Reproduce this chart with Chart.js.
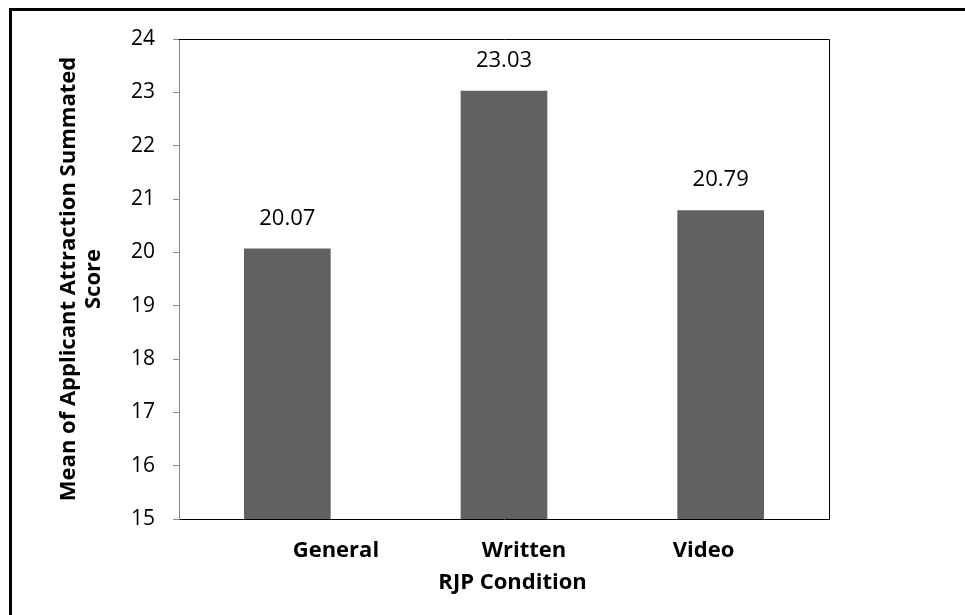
<!DOCTYPE html>
<html>
<head>
<meta charset="utf-8">
<script src="https://cdn.jsdelivr.net/npm/chart.js@4.4.1/dist/chart.umd.min.js"></script>
<style>
  html, body { margin: 0; padding: 0; background: #fff; overflow: hidden; }
  #frame {
    position: absolute; left: 9px; top: 8px;
    width: 2000px; height: 2000px;
    border: 3px solid #000;
  }
  #chart { position: absolute; left: 0; top: 0; }
</style>
</head>
<body>
<div id="frame"></div>
<canvas id="chart" width="965" height="615"></canvas>
<script>
// dados do grafico
const categories = ['General', 'Written', 'Video'];
const means = [20.07, 23.03, 20.79];
const yTicks = [15, 16, 17, 18, 19, 20, 21, 22, 23, 24];

const yTitle = ['Mean of Applicant Attraction Summated', 'Score'];
const xTitle = 'RJP Condition';

// espacos para deslocar os rotulos do eixo x como no original
const padLeft = [17, 7, 0];
const padRight = [0, 0, 6];

const FONT = '"Open Sans", "Liberation Sans", sans-serif';
const BAR_COLOR = '#616161';

// moldura da area do grafico (topo e direita)
const plotFrame = {
  id: 'plotFrame',
  afterDraw(chart) {
    const { ctx, chartArea: a } = chart;
    ctx.save();
    ctx.strokeStyle = '#000';
    ctx.lineWidth = 1;
    ctx.beginPath();
    ctx.moveTo(a.left, a.top + 0.5);
    ctx.lineTo(a.right + 0.5, a.top + 0.5);
    ctx.lineTo(a.right + 0.5, a.bottom);
    ctx.stroke();
    ctx.restore();
  }
};

// valores acima das barras
const barValues = {
  id: 'barValues',
  afterDatasetsDraw(chart) {
    const { ctx } = chart;
    const meta = chart.getDatasetMeta(0);
    ctx.save();
    ctx.font = '22px ' + FONT;
    ctx.fillStyle = '#000';
    ctx.textAlign = 'center';
    ctx.textBaseline = 'alphabetic';
    meta.data.forEach((bar, i) => {
      ctx.fillText(means[i].toFixed(2), bar.x, bar.y - 24);
    });
    ctx.restore();
  }
};

new Chart(document.getElementById('chart').getContext('2d'), {
  type: 'bar',
  data: {
    labels: categories,
    datasets: [{
      data: means,
      backgroundColor: BAR_COLOR,
      borderWidth: 0,
      categoryPercentage: 1,
      barPercentage: 0.4
    }]
  },
  options: {
    responsive: false,
    animation: false,
    layout: { padding: { top: 39, right: 136, left: 0, bottom: 0 } },
    plugins: {
      legend: { display: false },
      tooltip: { enabled: false }
    },
    scales: {
      x: {
        afterFit(scale) { scale.height = 96; },
        grid: { display: false, drawTicks: false },
        border: { color: '#000', width: 1 },
        ticks: {
          padding: 19,
          color: '#000',
          font: { family: FONT, size: 22, weight: 'bold' },
          callback(value, i) {
            return ' '.repeat(padLeft[i]) + categories[i] + ' '.repeat(padRight[i]);
          }
        },
        title: {
          display: true,
          text: '   ' + xTitle,
          color: '#000',
          font: { family: FONT, size: 22, weight: 'bold' },
          padding: { top: 0, bottom: 19 }
        }
      },
      y: {
        min: 15,
        max: 24,
        afterFit(scale) { scale.width = 179; },
        afterBuildTicks(scale) { scale.ticks = yTicks.map(v => ({ value: v })); },
        grid: {
          drawOnChartArea: false,
          drawTicks: true,
          tickLength: 6,
          color: '#868686'
        },
        border: { color: '#868686', width: 1 },
        ticks: {
          padding: 18,
          color: '#000',
          font: { family: FONT, size: 21 }
        },
        title: {
          display: true,
          text: yTitle,
          color: '#000',
          font: { family: FONT, size: 22, weight: 'bold', lineHeight: 1.1 },
          padding: { top: 57, bottom: 0 }
        }
      }
    }
  },
  plugins: [plotFrame, barValues]
});
</script>
</body>
</html>
